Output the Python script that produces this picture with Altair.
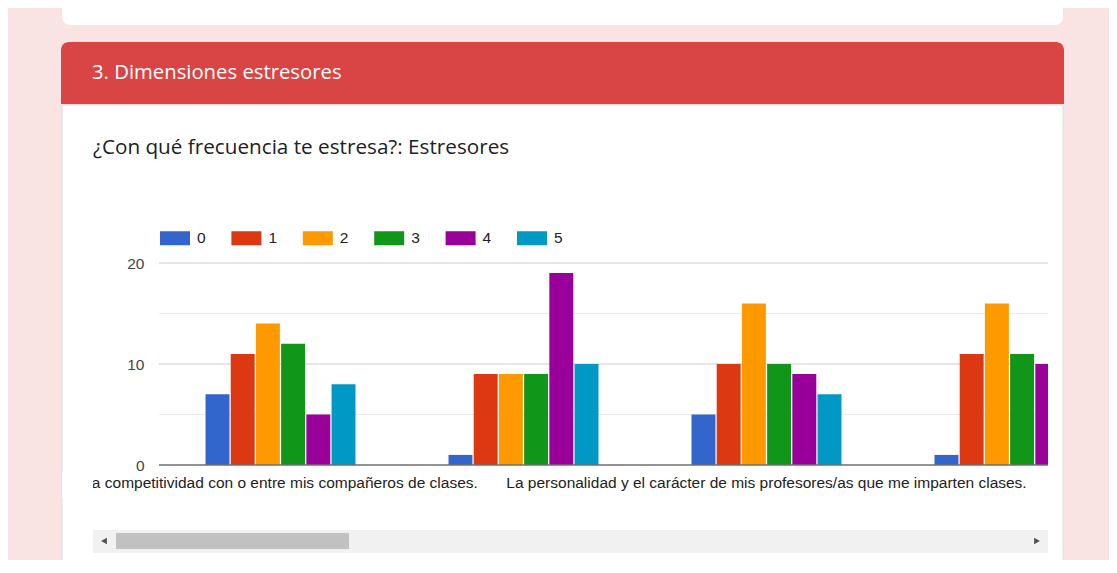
import altair as alt
import pandas as pd

# ---------------- data ----------------
categorias = [
    "La competitividad con o entre mis compañeros de clases.",
    "Estresor 2",
    "La personalidad y el carácter de mis profesores/as que me imparten clases.",
    "Estresor 4",
]
# Google Charts only prints every other label
etiquetas = [categorias[0], "", categorias[2], ""]
series = ["0", "1", "2", "3", "4", "5"]
colores = ["#3366cc", "#dc3912", "#ff9900", "#109618", "#990099", "#0099c6"]
valores_0 = [7, 1, 5, 1]
valores_1 = [11, 9, 10, 11]
valores_2 = [14, 9, 16, 16]
valores_3 = [12, 9, 10, 11]
valores_4 = [5, 19, 9, 10]
valores_5 = [8, 10, 7, None]   # last one hidden (scrolled out of view)
lineas_mayores = [10, 20]
lineas_menores = [5, 15]
linea_base = [0]
ticks_y = [0, 10, 20]

titulo_seccion = "3. Dimensiones estresores"
titulo_pregunta = "¿Con qué frecuencia te estresa?: Estresores"

todas = [valores_0, valores_1, valores_2, valores_3, valores_4, valores_5]
filas = []
for s, vals in zip(series, todas):
    for c, v in zip(categorias, vals):
        if v is not None:
            filas.append({"categoria": c, "serie": s, "valor": v})
df = pd.DataFrame(filas)
df_lab = pd.DataFrame({"categoria": categorias, "etiqueta": etiquetas})

# ---------------- layout ----------------
W, H = 889, 202
OX, OY = 159, 263          # page position of plot origin
LABEL_FONT = "Arial, Liberation Sans"
TITLE_FONT = "Open Sans"


def px(x):
    return x - OX


def py(y):
    return y - OY


one = pd.DataFrame({"k": [0]})


def rect(x1, x2, y1, y2, color, **kw):
    return alt.Chart(one).mark_rect(color=color, **kw).encode(
        x=alt.value(px(x1)), x2=alt.value(px(x2)),
        y=alt.value(py(y1)), y2=alt.value(py(y2)))


x_enc = alt.X("categoria:N",
              scale=alt.Scale(domain=categorias, range=[0, 972],
                              paddingInner=0.3827, paddingOuter=0.1914),
              axis=None)
y_enc = alt.Y("valor:Q", scale=alt.Scale(domain=[0, 20]),
              axis=alt.Axis(values=ticks_y, grid=False, domain=False, ticks=False,
                            labelPadding=15, labelFont=LABEL_FONT, labelFontSize=15.5,
                            labelColor="#444444", zindex=1, title=None))

bg = rect(8, 1109, 8, 565, "#fae3e3")
top_card = rect(62, 1063, 8, 25, "#ffffff",
                cornerRadiusBottomLeft=8, cornerRadiusBottomRight=8)
header = rect(61, 1064, 42, 104, "#d94545",
              cornerRadiusTopLeft=8, cornerRadiusTopRight=8)
card = rect(62, 1063, 105, 600, "#ffffff", stroke="#dadce0", strokeWidth=1)

header_txt = alt.Chart(pd.DataFrame({"t": [titulo_seccion]})).mark_text(
    align="left", baseline="middle", font=TITLE_FONT, fontSize=20.3,
    color="#ffffff").encode(
    x=alt.value(px(92)), y=alt.value(py(73)), text="t:N")
title_txt = alt.Chart(pd.DataFrame({"t": [titulo_pregunta]})).mark_text(
    align="left", baseline="middle", font=TITLE_FONT, fontSize=20.7,
    color="#202124").encode(
    x=alt.value(px(93)), y=alt.value(py(148)), text="t:N")

grid_min = alt.Chart(pd.DataFrame({"valor": lineas_menores})).mark_rule(
    color="#ebebeb", strokeWidth=1).encode(y=y_enc)
grid_maj = alt.Chart(pd.DataFrame({"valor": lineas_mayores})).mark_rule(
    color="#cccccc", strokeWidth=1).encode(y=y_enc)

bars = alt.Chart(df).mark_bar(clip=True).encode(
    x=x_enc,
    xOffset=alt.XOffset("serie:N", sort=series,
                        scale=alt.Scale(paddingInner=0.05, paddingOuter=0)),
    y=y_enc,
    color=alt.Color("serie:N",
                    scale=alt.Scale(domain=series, range=colores),
                    legend=alt.Legend(orient="none", legendX=1, legendY=-40,
                                      direction="horizontal", title=None,
                                      symbolType="M-1,-0.467H1V0.467H-1Z",
                                      symbolSize=900, symbolStrokeWidth=0,
                                      labelFont=LABEL_FONT, labelFontSize=15.5,
                                      labelColor="#222222", labelOffset=7,
                                      columnPadding=25.4, padding=0)),
)

base_line = alt.Chart(pd.DataFrame({"valor": linea_base})).mark_rule(
    color="#6f6f6f", strokeWidth=1.4).encode(y=y_enc)

labels = alt.Chart(df_lab).mark_text(
    baseline="middle", font=LABEL_FONT, fontSize=15.5, color="#222222").encode(
    x=x_enc, y=alt.value(py(483)), text="etiqueta:N")

cover = rect(62, 93, 472, 497, "#ffffff")
track = rect(93, 1048, 530, 553, "#f1f1f1")
thumb = rect(116, 349, 533, 549, "#c1c1c1")
arrow_l = alt.Chart(one).mark_point(shape="triangle-left", filled=True,
                                    color="#505050", size=45, opacity=1).encode(
    x=alt.value(px(104)), y=alt.value(py(541)))
arrow_r = alt.Chart(one).mark_point(shape="triangle-right", filled=True,
                                    color="#505050", size=45, opacity=1).encode(
    x=alt.value(px(1037)), y=alt.value(py(541)))

chart = alt.layer(
    bg, top_card, header, card, header_txt, title_txt,
    grid_min, grid_maj, bars, base_line, labels, cover,
    track, thumb, arrow_l, arrow_r,
).properties(
    width=W, height=H,
    autosize=alt.AutoSizeParams(type="none"),
    padding={"left": 151, "top": 255, "right": 61, "bottom": 95},
).configure_view(stroke=None).configure(background="#fae3e3")

chart.save("out.html", embed_options={"renderer": "svg", "actions": False})
